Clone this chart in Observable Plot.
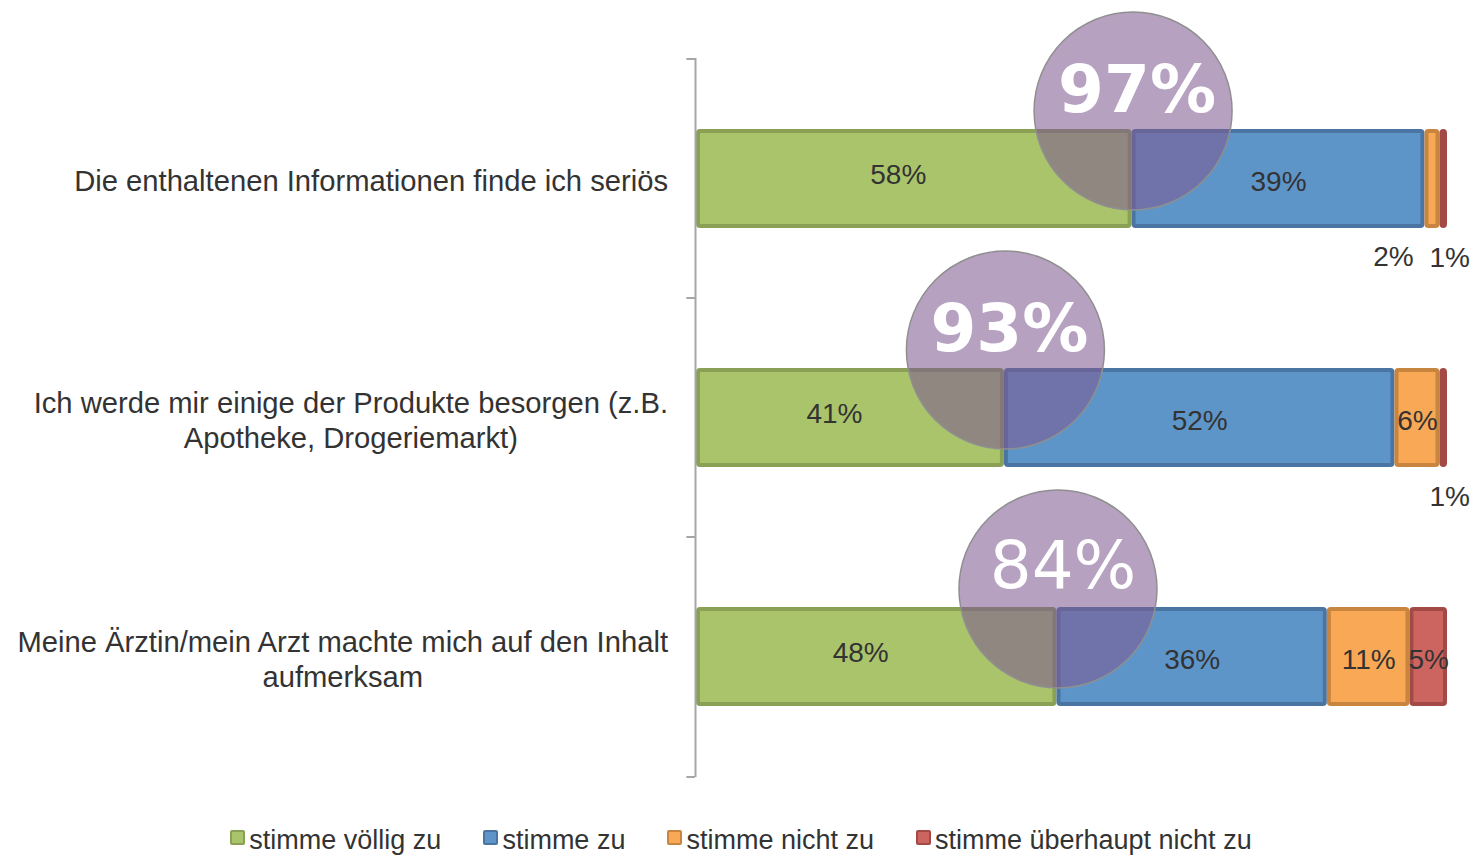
<!DOCTYPE html>
<html><head><meta charset="utf-8">
<script src="https://cdn.jsdelivr.net/npm/d3@7"></script>
<script src="https://cdn.jsdelivr.net/npm/@observablehq/plot@0.6"></script>
<style>
body{margin:0;background:#fff;font-family:"Liberation Sans",Arial,sans-serif;}
#legend{display:flex;justify-content:center;gap:42px;margin-top:24px;font-size:27px;color:#333;line-height:32px;padding-left:8px}
.item{display:flex;align-items:center}
.sw{width:11px;height:11px;border:2.5px solid;border-radius:2px;margin-right:4px;margin-top:-6px}
</style></head><body>
<div id="chart"></div><div id="legend"></div>
<script>
const categories = [
  "Die enthaltenen Informationen finde ich seriös",
  "Ich werde mir einige der Produkte besorgen (z.B.\nApotheke, Drogeriemarkt)",
  "Meine Ärztin/mein Arzt machte mich auf den Inhalt\naufmerksam"
];
const series = ["stimme völlig zu", "stimme zu", "stimme nicht zu", "stimme überhaupt nicht zu"];
const stimmeVoelligZu = [58, 41, 48];
const stimmeZu = [39, 52, 36];
const stimmeNichtZu = [2, 6, 11];
const stimmeUeberhauptNichtZu = [1, 1, 5];
const zustimmungGesamt = [97, 93, 84];
const fillColors = ["#aac46c", "#5e95c9", "#f9a856", "#cc6560"];
const strokeColors = ["#89a055", "#4a74a2", "#c8853f", "#a34a47"];

const seriesValues = [stimmeVoelligZu, stimmeZu, stimmeNichtZu, stimmeUeberhauptNichtZu];
const rows = [];
categories.forEach((cat, i) => series.forEach((s, j) => rows.push({cat, series: s, s: j, value: seriesValues[j][i]})));
const circles = categories.map((cat, i) => ({cat, x: stimmeVoelligZu[i], total: zustimmungGesamt[i], i}));

const stackOpts = {x: "value", y: "cat", z: "series", order: series};
const labelFont = {fontSize: 28, fill: "#333", fontFamily: "Liberation Sans, Arial, sans-serif"};

const chart = Plot.plot({
  width: 1474,
  height: 800,
  marginLeft: 696,
  marginRight: 27,
  marginTop: 58,
  marginBottom: 23,
  style: {fontFamily: "Liberation Sans, Arial, sans-serif", background: "#fff"},
  x: {domain: [0, 100], axis: null},
  y: {domain: categories, paddingInner: 0.5875, paddingOuter: 0.29375, axis: null},
  color: {type: "identity"},
  marks: [
    Plot.barX(rows, Plot.stackX({...stackOpts, fill: d => fillColors[d.s], stroke: d => strokeColors[d.s], strokeWidth: 4, inset: 2, rx: 2})),
    Plot.ruleX([0], {stroke: "#a6a6a6", strokeWidth: 2, dx: -1}),
    Plot.ruleY(categories, {y: d => d, x1: -1.15, x2: 0, dy: -120, dx: -1, stroke: "#a6a6a6", strokeWidth: 2}),
    Plot.ruleY([categories[categories.length - 1]], {y: d => d, x1: -1.15, x2: 0, dy: 120, dx: -1, stroke: "#a6a6a6", strokeWidth: 2}),
    Plot.text(rows, Plot.stackX({...stackOpts, text: d => d.s === 0 ? d.value + "%" : null, dx: -16, dy: -4, ...labelFont})),
    Plot.text(rows, Plot.stackX({...stackOpts, text: d => d.s > 0 && d.value >= 3 ? d.value + "%" : null, dy: 3, ...labelFont})),
    Plot.text(rows, Plot.stackX({...stackOpts, text: d => d.s === 2 && d.value < 3 ? d.value + "%" : null, dx: -39, dy: 78, ...labelFont})),
    Plot.text(rows, Plot.stackX({...stackOpts, text: d => d.s === 3 && d.value < 3 ? d.value + "%" : null, dx: 6, dy: 79, ...labelFont})),
    Plot.dot(circles, {x: "x", y: "cat", r: 99, dy: -68, dx: 1, fill: "#7f5a92", fillOpacity: 0.57, stroke: "#8f8f8f", strokeWidth: 1.5}),
    Plot.text(circles, {x: "x", y: "cat", text: d => d.i < 2 ? d.total + "%" : null, dy: -88, dx: 5, fill: "#fff", fontSize: 66, fontWeight: "bold", fontFamily: "DejaVu Sans, Verdana, sans-serif"}),
    Plot.text(circles, {x: "x", y: "cat", text: d => d.i >= 2 ? d.total + "%" : null, dy: -90, dx: 6, fill: "#fff", fontSize: 66, fontFamily: "DejaVu Sans, Verdana, sans-serif"}),
    Plot.text(categories, {x: 0, y: d => d, text: d => d, textAnchor: "middle", dx: -340, dy: 1, lineHeight: 1.2, fontSize: 29.2, fill: "#333", fontFamily: "Liberation Sans, Arial, sans-serif", className: "cat-label"})
  ]
});
document.getElementById("chart").appendChild(chart);

// right-align each centred multi-line category label block at the axis
const svgLeft = chart.getBoundingClientRect().left;
chart.querySelectorAll(".cat-label text").forEach(t => {
  const b = t.getBoundingClientRect();
  const shift = 668 - (b.right - svgLeft);
  t.setAttribute("transform", (t.getAttribute("transform") || "") + ` translate(${shift},0)`);
});

const legend = document.getElementById("legend");
series.forEach((s, j) => {
  const item = document.createElement("div");
  item.className = "item";
  const sw = document.createElement("span");
  sw.className = "sw";
  sw.style.background = fillColors[j];
  sw.style.borderColor = strokeColors[j];
  item.appendChild(sw);
  item.appendChild(document.createTextNode(s));
  legend.appendChild(item);
});
</script>
</body></html>
